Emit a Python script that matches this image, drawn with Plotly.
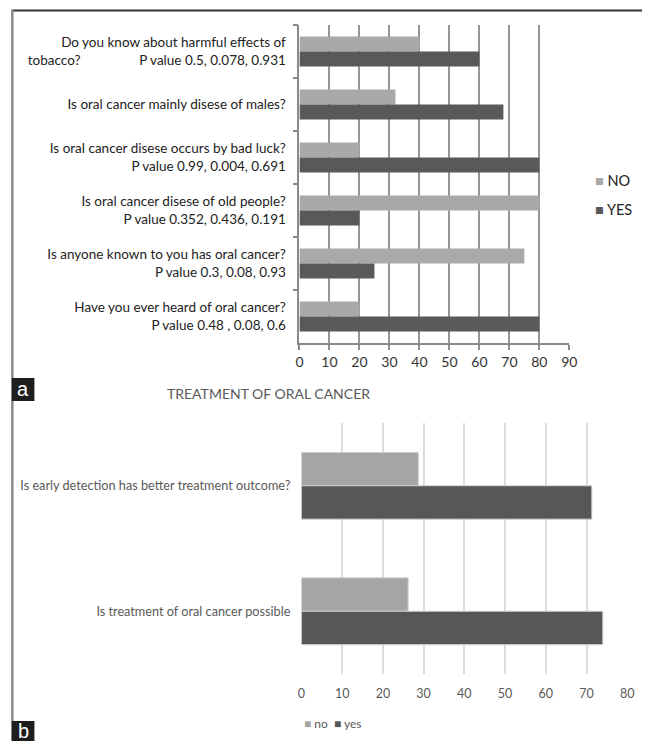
import plotly.graph_objects as go

W, H = 650, 741

# ---- Panel a: awareness questions ----
questions_a = [
    "Do you know about harmful effects of<br>tobacco?" + "\u00a0" * 17 + "P value 0.5, 0.078, 0.931",
    "Is oral cancer mainly disese of males?",
    "Is oral cancer disese occurs by bad luck?<br>P value 0.99, 0.004, 0.691",
    "Is oral cancer disese of old people?<br>P value 0.352, 0.436, 0.191",
    "Is anyone known to you has oral cancer?<br>P value 0.3, 0.08, 0.93",
    "Have you ever heard of oral cancer?<br>P value 0.48 , 0.08, 0.6",
]
no_a = [40, 32, 20, 80, 75, 20]
yes_a = [60, 68, 80, 20, 25, 80]
ticks_a = [0, 10, 20, 30, 40, 50, 60, 70, 80, 90]

# ---- Panel b: treatment questions ----
questions_b = [
    "Is early detection has better treatment outcome?",
    "Is treatment of oral cancer possible",
]
no_b = [28.7, 26.2]
yes_b = [71.3, 74.0]
ticks_b = [0, 10, 20, 30, 40, 50, 60, 70, 80]

LIGHT_A, DARK_A = "#a9a9a9", "#595959"
LIGHT_B, DARK_B = "#a5a5a5", "#575757"
FONT = "Lato"

BAR_A = 0.283   # bar thickness in category units, panel a
BAR_B = 0.266   # bar thickness in category units, panel b


def px(x):
    return x / W


def py(y):
    return 1 - y / H


fig = go.Figure()

fig.add_trace(go.Bar(y=questions_a, x=no_a, orientation="h", name="NO",
                     width=BAR_A, offset=-BAR_A,
                     marker=dict(color=LIGHT_A, line=dict(width=0)),
                     xaxis="x", yaxis="y"))
fig.add_trace(go.Bar(y=questions_a, x=yes_a, orientation="h", name="YES",
                     width=BAR_A, offset=0,
                     marker=dict(color=DARK_A, line=dict(width=0)),
                     xaxis="x", yaxis="y"))

fig.add_trace(go.Bar(y=questions_b, x=no_b, orientation="h", name="no",
                     width=BAR_B, offset=-BAR_B,
                     marker=dict(color=LIGHT_B, line=dict(color="#d0d0d0", width=1)),
                     xaxis="x2", yaxis="y2"))
fig.add_trace(go.Bar(y=questions_b, x=yes_b, orientation="h", name="yes",
                     width=BAR_B, offset=0,
                     marker=dict(color=DARK_B, line=dict(color="#d0d0d0", width=1)),
                     xaxis="x2", yaxis="y2"))

fig.update_layout(
    width=W, height=H, autosize=False,
    margin=dict(l=0, r=0, t=0, b=0),
    paper_bgcolor="white", plot_bgcolor="white",
    barmode="group",
    showlegend=False,
    font=dict(family=FONT, color="#222"),
    xaxis=dict(domain=[px(301), px(576)], range=[0, 90], tickvals=ticks_a,
               showgrid=True, gridcolor="#959595", gridwidth=1.8,
               showline=True, linecolor="#8a8a8a", linewidth=1.8,
               ticks="outside", ticklen=5, tickcolor="#8a8a8a", tickwidth=1.8,
               tickfont=dict(size=14, color="#333"), zeroline=False,
               anchor="y"),
    yaxis=dict(domain=[py(343), py(25)], autorange="reversed", type="category",
               showline=True, linecolor="#8a8a8a", linewidth=1.8,
               ticks="outside", tickson="boundaries", ticklen=5,
               tickcolor="#8a8a8a", tickwidth=1.8,
               tickfont=dict(size=13.5, color="#222"), ticklabelstandoff=9,
               anchor="x", showgrid=False),
    xaxis2=dict(domain=[px(303), px(635)], range=[0, 80], tickvals=ticks_b,
                showgrid=True, gridcolor="#dcdcdc", gridwidth=1.5,
                showline=False, ticks="", zeroline=False,
                tickfont=dict(size=12.5, color="#595959"), ticklabelstandoff=10,
                anchor="y2"),
    yaxis2=dict(domain=[py(674), py(423)], autorange="reversed", type="category",
                showline=False, ticks="", showgrid=False,
                tickfont=dict(size=12.7, color="#595959"), ticklabelstandoff=10,
                anchor="x2"),
)

# Figure frame and panel tags
shapes = [
    dict(type="line", xref="paper", yref="paper", x0=px(8), x1=1, y0=py(10.5), y1=py(10.5),
         line=dict(color="#333", width=2)),
    dict(type="line", xref="paper", yref="paper", x0=px(8.5), x1=px(8.5), y0=py(10), y1=0,
         line=dict(color="#8a8a8a", width=2.5)),
    dict(type="rect", xref="paper", yref="paper", x0=px(8), x1=px(31), y0=py(401), y1=py(378),
         fillcolor="#1e1e1e", line=dict(width=0)),
    dict(type="rect", xref="paper", yref="paper", x0=px(8), x1=px(31), y0=0, y1=py(721),
         fillcolor="#1e1e1e", line=dict(width=0)),
]
fig.update_layout(shapes=shapes)


def swatch(color):
    return f"<span style='color:{color}'>■</span>"


annotations = [
    dict(text="a", xref="paper", yref="paper", x=px(19.5), y=py(389), showarrow=False,
         font=dict(family="Liberation Sans", size=20, color="white"),
         xanchor="center", yanchor="middle"),
    dict(text="b", xref="paper", yref="paper", x=px(19.5), y=py(731), showarrow=False,
         font=dict(family="Liberation Sans", size=20, color="white"),
         xanchor="center", yanchor="middle"),
    dict(text="TREATMENT OF ORAL CANCER", xref="paper", yref="paper",
         x=px(269), y=py(393), showarrow=False,
         font=dict(family=FONT, size=14, color="#595959"),
         xanchor="center", yanchor="middle"),
    # legend, panel a
    dict(text=swatch(LIGHT_A) + " NO", xref="paper", yref="paper",
         x=px(600), y=py(181), showarrow=False, xanchor="left", yanchor="middle",
         font=dict(family=FONT, size=14.5, color="#222")),
    dict(text=swatch(DARK_A) + " YES", xref="paper", yref="paper",
         x=px(600), y=py(209), showarrow=False, xanchor="left", yanchor="middle",
         font=dict(family=FONT, size=14.5, color="#222")),
    # legend, panel b
    dict(text=swatch(LIGHT_B) + " no\u00a0\u00a0" + swatch(DARK_B) + " yes",
         xref="paper", yref="paper",
         x=px(304), y=py(723), showarrow=False, xanchor="left", yanchor="middle",
         font=dict(family=FONT, size=12, color="#595959")),
]
fig.update_layout(annotations=annotations)

fig.write_html("out.html", config={"responsive": False})
